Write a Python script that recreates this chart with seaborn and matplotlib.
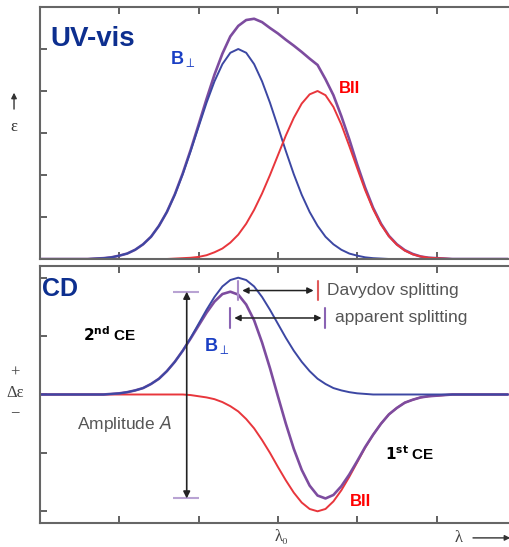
import numpy as np
import pandas as pd
import seaborn as sns
import matplotlib.pyplot as plt

# wavelength axis (arbitrary units, ticks at 1..5)
wl = [0.0, 0.1, 0.2, 0.3, 0.4, 0.5, 0.6, 0.7, 0.8, 0.9,
      1.0, 1.1, 1.2, 1.3, 1.4, 1.5, 1.6, 1.7, 1.8, 1.9,
      2.0, 2.1, 2.2, 2.3, 2.4, 2.5, 2.6, 2.7, 2.8, 2.9,
      3.0, 3.1, 3.2, 3.3, 3.4, 3.5, 3.6, 3.7, 3.8, 3.9,
      4.0, 4.1, 4.2, 4.3, 4.4, 4.5, 4.6, 4.7, 4.8, 4.9,
      5.0, 5.1, 5.2, 5.3, 5.4, 5.5, 5.6, 5.7, 5.8, 5.9]

# UV-vis absorption (epsilon)
uv_perp = [0, 0, 0, 0, 0, 0, 0, 0.01, 0.02, 0.04,
           0.08, 0.13, 0.22, 0.35, 0.53, 0.79, 1.12, 1.53, 2.02, 2.57,
           3.15, 3.72, 4.23, 4.64, 4.91, 5.00, 4.91, 4.64, 4.23, 3.72,
           3.15, 2.57, 2.02, 1.53, 1.12, 0.79, 0.53, 0.35, 0.22, 0.13,
           0.08, 0.04, 0.02, 0.01, 0, 0, 0, 0, 0, 0,
           0, 0, 0, 0, 0, 0, 0, 0, 0, 0]
uv_par = [0, 0, 0, 0, 0, 0, 0, 0, 0, 0,
          0, 0, 0, 0, 0, 0, 0, 0.01, 0.02, 0.03,
          0.05, 0.09, 0.16, 0.25, 0.39, 0.58, 0.84, 1.17, 1.56, 2.00,
          2.47, 2.94, 3.36, 3.70, 3.92, 4.00, 3.90, 3.62, 3.20, 2.69,
          2.16, 1.64, 1.19, 0.82, 0.54, 0.34, 0.20, 0.11, 0.06, 0.03,
          0.02, 0.01, 0, 0, 0, 0, 0, 0, 0, 0]
uv_total = [0, 0, 0, 0, 0, 0, 0, 0.01, 0.02, 0.04,
            0.08, 0.13, 0.22, 0.35, 0.53, 0.79, 1.12, 1.54, 2.04, 2.60,
            3.20, 3.81, 4.39, 4.89, 5.30, 5.55, 5.69, 5.72, 5.64, 5.50,
            5.37, 5.22, 5.08, 4.93, 4.77, 4.62, 4.28, 3.90, 3.40, 2.85,
            2.25, 1.70, 1.22, 0.84, 0.55, 0.35, 0.21, 0.12, 0.06, 0.03,
            0.02, 0.01, 0, 0, 0, 0, 0, 0, 0, 0]

# CD (delta epsilon)
cd_perp = [0, 0, 0, 0, 0, 0, 0, 0, 0, 0.01,
           0.02, 0.04, 0.07, 0.11, 0.18, 0.27, 0.40, 0.56, 0.75, 0.97,
           1.21, 1.45, 1.67, 1.85, 1.96, 2.00, 1.96, 1.85, 1.67, 1.45,
           1.21, 0.97, 0.75, 0.56, 0.40, 0.27, 0.18, 0.11, 0.07, 0.04,
           0.02, 0.01, 0, 0, 0, 0, 0, 0, 0, 0,
           0, 0, 0, 0, 0, 0, 0, 0, 0, 0]
cd_par = [0, 0, 0, 0, 0, 0, 0, 0, 0, 0,
          0, 0, 0, 0, 0, 0, 0, 0, 0, -0.01,
          -0.03, -0.05, -0.08, -0.13, -0.20, -0.29, -0.42, -0.58, -0.78, -1.00,
          -1.24, -1.47, -1.68, -1.85, -1.96, -2.00, -1.96, -1.83, -1.64, -1.41,
          -1.16, -0.91, -0.69, -0.50, -0.34, -0.23, -0.14, -0.09, -0.05, -0.03,
          -0.02, -0.01, 0, 0, 0, 0, 0, 0, 0, 0]
cd_total = [0, 0, 0, 0, 0, 0, 0, 0, 0, 0.01,
            0.02, 0.04, 0.07, 0.11, 0.18, 0.27, 0.40, 0.56, 0.75, 0.96,
            1.18, 1.40, 1.59, 1.72, 1.76, 1.71, 1.54, 1.27, 0.89, 0.45,
            -0.03, -0.50, -0.93, -1.29, -1.56, -1.73, -1.78, -1.72, -1.57, -1.37,
            -1.14, -0.90, -0.69, -0.50, -0.34, -0.23, -0.14, -0.09, -0.05, -0.03,
            -0.02, -0.01, 0, 0, 0, 0, 0, 0, 0, 0]

BLUE = "#3c47a3"
RED = "#e8363c"
PURPLE = "#7d4c9f"
DARKBLUE = "#0d2f8f"
LBLUE = "#1a3fc4"
GREY = "#555555"

sns.set_style("ticks")
plt.rcParams['font.family'] = ['Liberation Sans', 'DejaVu Sans']
SERIF = ['Liberation Serif', 'DejaVu Serif']

uv = pd.DataFrame({"wl": wl, "perp": uv_perp, "par": uv_par, "total": uv_total})
cd = pd.DataFrame({"wl": wl, "perp": cd_perp, "par": cd_par, "total": cd_total})

fig = plt.figure(figsize=(5.09, 5.47), dpi=100)
ax1 = fig.add_axes([0.0786, 0.5265, 0.9214, 0.4607])
ax2 = fig.add_axes([0.0786, 0.0439, 0.9214, 0.4698])

# top panel: purple under the components
sns.lineplot(data=uv, x="wl", y="total", color=PURPLE, lw=1.9, ax=ax1)
sns.lineplot(data=uv, x="wl", y="perp", color=BLUE, lw=1.4, ax=ax1)
sns.lineplot(data=uv, x="wl", y="par", color=RED, lw=1.4, ax=ax1)

# bottom panel
sns.lineplot(data=cd, x="wl", y="par", color=RED, lw=1.4, ax=ax2)
sns.lineplot(data=cd, x="wl", y="total", color=PURPLE, lw=1.9, ax=ax2)
sns.lineplot(data=cd, x="wl", y="perp", color=BLUE, lw=1.4, ax=ax2)

ax1.set_ylim(0, 6)
ax1.set_yticks([1, 2, 3, 4, 5])
ax2.set_ylim(-2.2, 2.2)
ax2.set_yticks([-2, -1, 0, 1, 2])
for ax in (ax1, ax2):
    ax.set_xlim(0, 5.914)
    ax.set_xticks([1, 2, 3, 4, 5])
    ax.set_xlabel("")
    ax.set_ylabel("")
    ax.tick_params(direction='in', top=True, bottom=True, left=True, right=False,
                   labelleft=False, labelbottom=False, length=5, width=1.3, color="#555555")
    for s in ("left", "top", "bottom"):
        ax.spines[s].set_color("#666666")
        ax.spines[s].set_linewidth(1.5)
    ax.spines["right"].set_visible(False)

# top labels
ax1.text(0.13, 5.24, "UV-vis", color=DARKBLUE, fontsize=20, fontweight='bold', va='center')
ax1.text(1.64, 4.77, "B$_\\perp$", color=LBLUE, fontsize=13, fontweight='bold', va='center')
ax1.text(3.77, 4.06, "BII", color="red", fontsize=12, fontweight='bold', va='center')

# bottom labels
ax2.text(0.03, 1.81, "CD", color=DARKBLUE, fontsize=18, fontweight='bold', va='center')
ax2.text(0.54, 1.02, r"$\mathbf{2^{nd}}$ CE", color="black", fontsize=11, fontweight='bold', va='center')
ax2.text(4.35, -1.02, r"$\mathbf{1^{st}}$ CE", color="black", fontsize=11, fontweight='bold', va='center')
ax2.text(2.07, 0.83, "B$_\\perp$", color=LBLUE, fontsize=13, fontweight='bold', va='center')
ax2.text(3.91, -1.84, "BII", color="red", fontsize=12, fontweight='bold', va='center')

# splitting markers derived from the curves
x = np.array(wl)
x_perp = x[np.argmax(cd_perp)]
x_par = x[np.argmin(cd_par)]
x_max = x[np.argmax(cd_total)]
x_min = x[np.argmin(cd_total)]
a_top = max(cd_total)
a_bot = min(cd_total)

arr = dict(arrowstyle='<|-|>', color="#222222", lw=1.1, shrinkA=0, shrinkB=0, mutation_scale=9)
ax2.annotate("", xy=(x_perp + 0.05, 1.78), xytext=(x_par - 0.05, 1.78), arrowprops=arr)
ax2.plot([x_perp, x_perp], [1.62, 1.94], color="#a98bc9", lw=1.5)
ax2.plot([x_par, x_par], [1.62, 1.94], color="#e05a5a", lw=1.5)
ax2.text(x_par + 0.12, 1.78, "Davydov splitting", color=GREY, fontsize=12.5, va='center')

ax2.annotate("", xy=(x_max + 0.05, 1.31), xytext=(x_min - 0.05, 1.31), arrowprops=arr)
ax2.plot([x_max, x_max], [1.14, 1.48], color="#8a63b3", lw=1.5)
ax2.plot([x_min, x_min], [1.14, 1.48], color="#8a63b3", lw=1.5)
ax2.text(x_min + 0.12, 1.31, "apparent splitting", color=GREY, fontsize=12.5, va='center')

ax2.annotate("", xy=(1.85, a_bot), xytext=(1.85, a_top),
             arrowprops=dict(arrowstyle='<|-|>', color="#222222", lw=1.2,
                             shrinkA=0, shrinkB=0, mutation_scale=10))
ax2.hlines([a_top, a_bot], 1.68, 2.0, color="#b9a3d3", lw=1.5)
ax2.text(0.47, -0.5, "Amplitude $A$", color=GREY, fontsize=12.5, va='center')

# y labels
ax1.annotate("", xy=(-0.0554, 0.66), xytext=(-0.0554, 0.595), xycoords='axes fraction',
             arrowprops=dict(arrowstyle='-|>', color="#333333", lw=1, mutation_scale=8,
                             shrinkA=0, shrinkB=0), annotation_clip=False)
ax1.text(-0.0554, 0.524, "ε", transform=ax1.transAxes, ha='center', va='center',
         fontsize=12, family=SERIF, color="#333333")
ax2.text(-0.053, 0.584, "+", transform=ax2.transAxes, ha='center', va='center',
         fontsize=12, family=SERIF, color="#444444")
ax2.text(-0.053, 0.506, "Δε", transform=ax2.transAxes, ha='center', va='center',
         fontsize=12, family=SERIF, color="#444444")
ax2.text(-0.053, 0.428, "−", transform=ax2.transAxes, ha='center', va='center',
         fontsize=12, family=SERIF, color="#444444")

# x labels (sit just under the bottom axis)
ax2.text(3.05, -0.055, "λ₀", transform=ax2.get_xaxis_transform(), ha='center', va='center',
         fontsize=12, family=SERIF, color="#444444", clip_on=False)
ax2.text(5.28, -0.058, "λ", transform=ax2.get_xaxis_transform(), ha='center', va='center',
         fontsize=12, family=SERIF, color="#444444", clip_on=False)
ax2.annotate("", xy=(5.93, -0.058), xytext=(5.46, -0.058),
             xycoords=ax2.get_xaxis_transform(),
             arrowprops=dict(arrowstyle='-|>', color="#333333", lw=1, mutation_scale=8,
                             shrinkA=0, shrinkB=0), annotation_clip=False)

fig.savefig("out.png", dpi=100)
